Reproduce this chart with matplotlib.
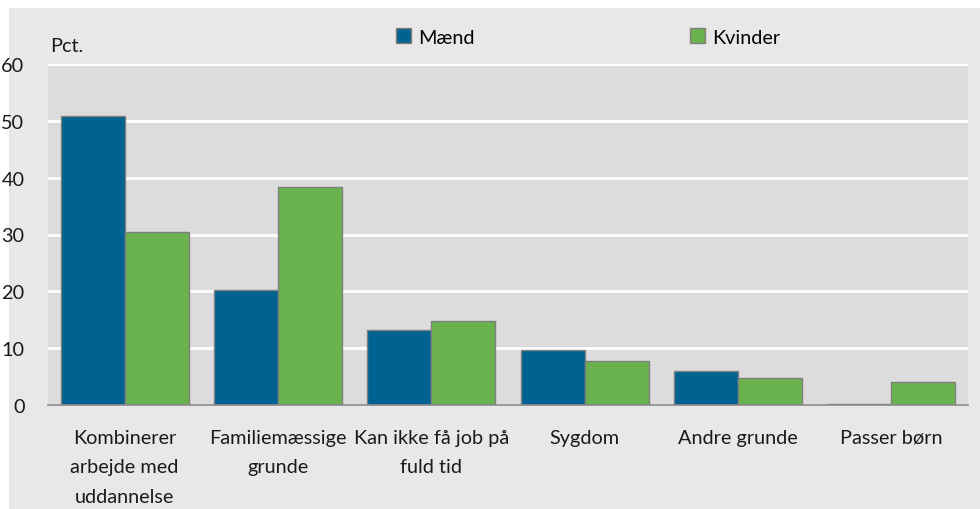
import matplotlib
matplotlib.use("Agg")
import matplotlib.pyplot as plt
import numpy as np
from matplotlib.patches import Rectangle, Patch

categories = ["Kombinerer\narbejde med\nuddannelse", "Familiemæssige\ngrunde",
              "Kan ikke få job på\nfuld tid", "Sygdom", "Andre grunde", "Passer børn"]
maend = [50.9, 20.3, 13.2, 9.7, 6.0, 0.2]
kvinder = [30.5, 38.4, 14.8, 7.7, 4.8, 4.1]
series_names = ["Mænd", "Kvinder"]
yticks = [0, 10, 20, 30, 40, 50, 60]

plt.rcParams['font.family'] = ['Lato', 'DejaVu Sans']
FS = 14.3

W, H = 980, 510
fig = plt.figure(figsize=(W/100, H/100), dpi=100)
fig.patch.set_facecolor('white')
fig.patches.append(Rectangle((9/W, 0), 1 - 9/W, 1 - 9/H, transform=fig.transFigure,
                             facecolor='#e8e8e8', edgecolor='none', zorder=-10))

left, right, top, bottom = 48, 968, 65, 406
ax = fig.add_axes([left/W, 1 - bottom/H, (right-left)/W, (bottom-top)/H])
ax.set_facecolor('#dcdcdc')

blue = '#006290'
green = '#6ab24e'
x = np.arange(len(categories))
w = 0.417
ax.bar(x - w/2, maend, w, color=blue, edgecolor='#7f7f7f', linewidth=1, zorder=3, label=series_names[0])
ax.bar(x + w/2, kvinder, w, color=green, edgecolor='#7f7f7f', linewidth=1, zorder=3, label=series_names[1])

ax.set_xlim(-0.5, len(categories) - 0.5)
ax.set_ylim(0, 60)
ax.set_yticks(yticks)
ax.set_yticklabels([str(t) for t in yticks], fontsize=FS, color='#1a1a1a')
ax.yaxis.grid(True, color='white', linewidth=2.2, zorder=0)
ax.set_axisbelow(True)
ax.tick_params(axis='y', length=0, pad=17)
ax.tick_params(axis='x', length=0, pad=17)
ax.set_xticks(x)
ax.set_xticklabels(categories, fontsize=FS, color='#1a1a1a', linespacing=1.9)
for s in ['top', 'right', 'left']:
    ax.spines[s].set_visible(False)
ax.spines['bottom'].set_color('#8a8a8a')
ax.spines['bottom'].set_linewidth(1.2)
ax.spines['bottom'].set_zorder(4)

fig.text(50/W, 1 - 47/H, "Pct.", fontsize=FS, color='#1a1a1a', va='center', ha='left')

handles = [Patch(facecolor=blue, edgecolor='#7f7f7f'), Patch(facecolor=green, edgecolor='#7f7f7f')]
for h, name, xp in zip(handles, series_names, [396, 690]):
    lg = fig.legend([h], [name], loc='center left', bbox_to_anchor=(xp/W, 1 - 38/H),
                    frameon=False, fontsize=FS, handlelength=0.75, handleheight=0.75,
                    handletextpad=0.35, borderaxespad=0, borderpad=0)

fig.savefig("out.png", dpi=100, facecolor=fig.get_facecolor())
